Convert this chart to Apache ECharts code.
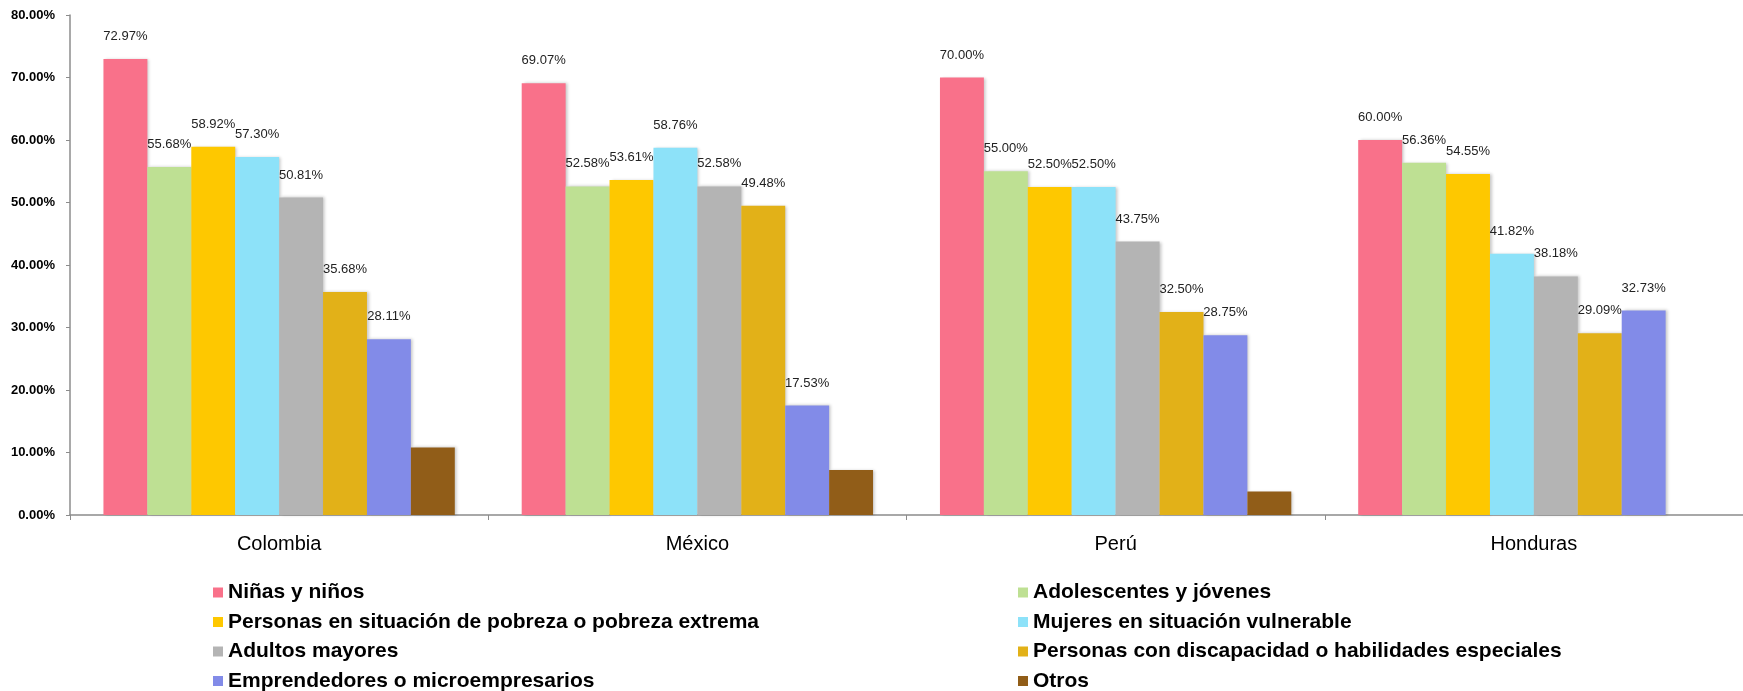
<!DOCTYPE html>
<html>
<head>
<meta charset="utf-8">
<script src="https://cdn.jsdelivr.net/npm/echarts@6/dist/echarts.min.js"></script>
<style>
html,body{margin:0;padding:0;background:#fff;}
#chart{width:1743px;height:691px;}
</style>
</head>
<body>
<div id="chart"></div>
<script>
const categories = ['Colombia', 'México', 'Perú', 'Honduras'];
const seriesNames = [
  'Niñas y niños',
  'Adolescentes y jóvenes',
  'Personas en situación de pobreza o pobreza extrema',
  'Mujeres en situación vulnerable',
  'Adultos mayores',
  'Personas con discapacidad o habilidades especiales',
  'Emprendedores o microempresarios',
  'Otros'
];
const ninos = [72.97, 69.07, 70.00, 60.00];
const adolescentes = [55.68, 52.58, 55.00, 56.36];
const pobreza = [58.92, 53.61, 52.50, 54.55];
const mujeres = [57.30, 58.76, 52.50, 41.82];
const adultos = [50.81, 52.58, 43.75, 38.18];
const discapacidad = [35.68, 49.48, 32.50, 29.09];
const emprendedores = [28.11, 17.53, 28.75, 32.73];
const otros = [10.81, 7.22, 3.75, null];
const seriesValues = [ninos, adolescentes, pobreza, mujeres, adultos, discapacidad, emprendedores, otros];
const colors = ['#F9718A', '#BEE093', '#FEC800', '#8DE2F9', '#B4B4B4', '#E2B118', '#828BE8', '#915D18'];
const yTicks = { min: 0, max: 80, interval: 10 };

const FONT = '"Liberation Sans", Arial, Helvetica, sans-serif';

const chart = echarts.init(document.getElementById('chart'), null, { renderer: 'canvas' });

const series = seriesNames.map((name, i) => ({
  name: name,
  type: 'bar',
  data: seriesValues[i],
  barGap: '0%',
  barCategoryGap: '16%',
  itemStyle: {
    color: colors[i],
    shadowColor: 'rgba(0,0,0,0.22)',
    shadowBlur: 3,
    shadowOffsetX: 2,
    shadowOffsetY: 0
  },
  label: {
    show: i < 7,
    position: 'top',
    distance: 16,
    fontFamily: FONT,
    fontSize: 13,
    color: '#222',
    formatter: p => (p.value == null ? '' : Number(p.value).toFixed(2) + '%')
  }
}));

const legendText = {
  fontFamily: FONT,
  fontSize: 21,
  fontWeight: 'bold',
  color: '#000',
  lineHeight: 21
};

function makeLegend(left, names) {
  return {
    orient: 'vertical',
    left: left,
    top: 582,
    height: 160,
    itemWidth: 10,
    itemHeight: 10,
    itemGap: 8.5,
    icon: 'rect',
    padding: 0,
    data: names,
    textStyle: legendText
  };
}

chart.setOption({
  animation: false,
  backgroundColor: '#fff',
  color: colors,
  grid: { left: 70, top: 15, width: 1684, bottom: 176, containLabel: false },
  legend: [
    makeLegend(213, [seriesNames[0], seriesNames[2], seriesNames[4], seriesNames[6]]),
    makeLegend(1018, [seriesNames[1], seriesNames[3], seriesNames[5], seriesNames[7]])
  ],
  xAxis: {
    type: 'category',
    data: categories,
    axisLine: { show: true, lineStyle: { color: '#8c8c8c', width: 1.5 } },
    axisTick: { show: true, length: 5, lineStyle: { color: '#8c8c8c' } },
    axisLabel: { fontFamily: FONT, fontSize: 20, color: '#000', margin: 19 }
  },
  yAxis: {
    type: 'value',
    min: yTicks.min,
    max: yTicks.max,
    interval: yTicks.interval,
    splitLine: { show: false },
    axisLine: { show: true, lineStyle: { color: '#8c8c8c', width: 1.5 } },
    axisTick: { show: true, length: 4, lineStyle: { color: '#8c8c8c' } },
    axisLabel: {
      fontFamily: FONT,
      fontSize: 13,
      fontWeight: 'bold',
      color: '#000',
      margin: 15,
      formatter: v => v.toFixed(2) + '%'
    }
  },
  series: series
});
</script>
</body>
</html>
